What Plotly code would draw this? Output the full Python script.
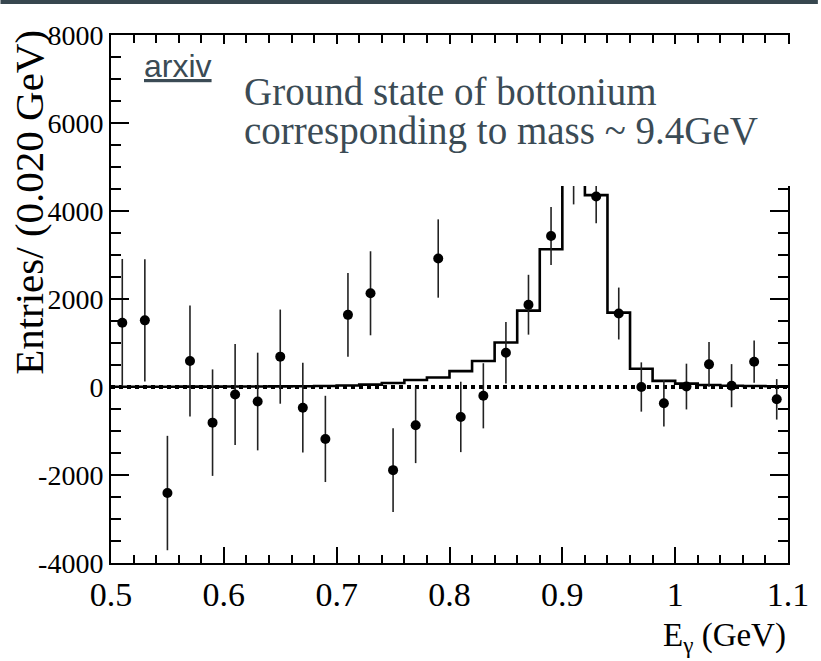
import plotly.graph_objects as go

# Photon energy spectrum, 0.020 GeV bins between 0.5 and 1.1 GeV
bin_centers = [0.51, 0.53, 0.55, 0.57, 0.59, 0.61, 0.63, 0.65, 0.67, 0.69,
               0.71, 0.73, 0.75, 0.77, 0.79, 0.81, 0.83, 0.85, 0.87, 0.89,
               0.91, 0.93, 0.95, 0.97, 0.99, 1.01, 1.03, 1.05, 1.07, 1.09]
bin_width = 0.02

# Background-subtracted data points and their uncertainties
data_counts = [1460, 1515, -2410, 590, -810, -170, -330, 690, -470, -1180,
               1640, 2130, -1890, -870, 2920, -680, -200, 780, 1870, 3430,
               4800, 4330, 1670, 0, -370, 10, 515, 30, 575, -280]
data_errors = [1450, 1390, 1300, 1260, 1210, 1150, 1110, 1070, 1020, 980,
               950, 955, 950, 860, 890, 800, 740, 700, 680, 660,
               650, 610, 590, 560, 530, 520, 510, 490, 480, 460]

# Fitted signal shape (step histogram)
fit_counts = [5, 6, 7, 8, 9, 10, 12, 15, 18, 22,
              35, 55, 90, 160, 215, 360, 590, 1010, 1735, 3130,
              6200, 4360, 1690, 415, 140, 76, 45, 30, 22, 18]

# Background level
background_level = 0

x_tick_vals = [0.5, 0.6, 0.7, 0.8, 0.9, 1.0, 1.1]
x_tick_text = ["0.5", "0.6", "0.7", "0.8", "0.9", "1", "1.1"]
y_tick_vals = [-4000, -2000, 0, 2000, 4000, 6000, 8000]
y_tick_text = ["-4000", "-2000", "0", "2000", "4000", "6000", "8000"]

# Bin edges for the step outline
edges = [c - bin_width / 2 for c in bin_centers] + [bin_centers[-1] + bin_width / 2]
step_y = fit_counts + [fit_counts[-1]]

SERIF = "Liberation Serif"
SANS = "Liberation Sans"
SLATE = "#3b4b55"

fig = go.Figure()

fig.add_trace(go.Scatter(
    x=[edges[0], edges[-1]], y=[background_level, background_level],
    mode="lines", line=dict(color="black", width=4, dash="dot"),
    hoverinfo="skip", showlegend=False,
))

fig.add_trace(go.Scatter(
    x=edges, y=step_y, mode="lines", line_shape="hv",
    line=dict(color="black", width=2.6),
    showlegend=False,
))

fig.add_trace(go.Scatter(
    x=bin_centers, y=data_counts, mode="markers",
    marker=dict(color="black", size=10),
    error_y=dict(type="data", array=data_errors, visible=True,
                 color="#222222", thickness=1.6, width=0),
    showlegend=False,
))

# Plot area spans 111..791 px horizontally and 35..563 px vertically
L, R, T, B = 111, 791, 35, 563
W, H = 821, 661


def px_x(px):
    return (px - L) / (R - L)


def px_y(py):
    return (B - py) / (B - T)


shapes = [
    # white caption panel laid over the upper part of the frame
    dict(type="rect", xref="paper", yref="paper", layer="above",
         x0=px_x(218), x1=px_x(806), y0=px_y(186), y1=px_y(44),
         fillcolor="white", line=dict(width=0)),
    # dark strip along the top edge of the page
    dict(type="rect", xref="paper", yref="paper", layer="above",
         x0=px_x(0), x1=px_x(W), y0=px_y(4), y1=px_y(-2),
         fillcolor="#37474f", line=dict(width=0)),
]

annotations = [
    dict(text="<u>arxiv</u>", xref="paper", yref="paper",
         x=px_x(142), y=px_y(66), xanchor="left", yanchor="middle",
         showarrow=False, font=dict(family=SANS, size=32, color=SLATE)),
    dict(text="Ground state of bottonium", xref="paper", yref="paper",
         x=px_x(243), y=px_y(92), xanchor="left", yanchor="middle",
         showarrow=False, font=dict(family=SERIF, size=39, color=SLATE)),
    dict(text="corresponding to mass ~ 9.4GeV", xref="paper", yref="paper",
         x=px_x(243), y=px_y(131), xanchor="left", yanchor="middle",
         showarrow=False, font=dict(family=SERIF, size=39, color=SLATE)),
    dict(text="Entries/ (0.020 GeV)", xref="paper", yref="paper",
         x=px_x(28), y=px_y(28), xanchor="center", yanchor="top",
         textangle=-90, showarrow=False,
         font=dict(family=SERIF, size=41, color="black")),
    dict(text="E<sub>γ</sub> (GeV)", xref="paper", yref="paper",
         x=px_x(791), y=px_y(615), xanchor="right", yanchor="top",
         showarrow=False, font=dict(family=SERIF, size=33, color="black")),
]

fig.update_layout(
    width=W, height=H, autosize=False,
    margin=dict(l=L, r=W - R, t=T, b=H - B, pad=0),
    paper_bgcolor="white", plot_bgcolor="white",
    shapes=shapes, annotations=annotations,
    showlegend=False,
)

fig.update_xaxes(
    range=[0.5, 1.1], tickmode="array", tickvals=x_tick_vals, ticktext=x_tick_text,
    ticks="inside", ticklen=16, tickwidth=1.5, tickcolor="black",
    minor=dict(ticks="inside", ticklen=8, tickwidth=1.5, tickcolor="black",
               tick0=0.5, dtick=0.02),
    showline=True, linewidth=2, linecolor="black", mirror="allticks",
    showgrid=False, zeroline=False, ticklabelstandoff=0,
    tickfont=dict(family=SERIF, size=34, color="black"),
)

fig.update_yaxes(
    range=[-4000, 8000], tickmode="array", tickvals=y_tick_vals, ticktext=y_tick_text,
    ticks="inside", ticklen=18, tickwidth=1.5, tickcolor="black",
    minor=dict(ticks="inside", ticklen=10, tickwidth=1.5, tickcolor="black",
               tick0=0, dtick=500),
    showline=True, linewidth=2, linecolor="black", mirror="allticks",
    showgrid=False, zeroline=False,
    tickfont=dict(family=SERIF, size=28, color="black"),
)

fig.write_html("out.html")
